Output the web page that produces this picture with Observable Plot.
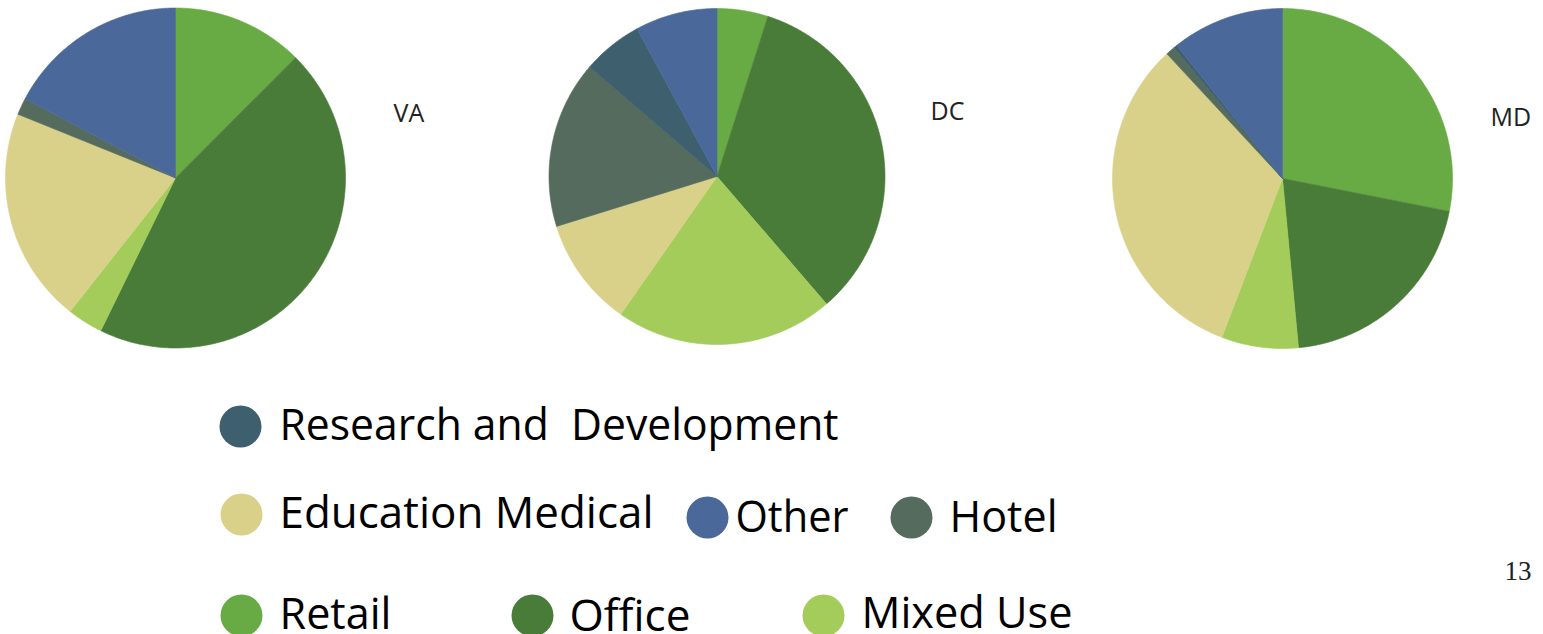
<!DOCTYPE html>
<html>
<head>
<meta charset="utf-8">
<script src="https://cdn.jsdelivr.net/npm/d3@7"></script>
<script src="https://cdn.jsdelivr.net/npm/@observablehq/plot@0.6"></script>
<style>
  html, body { margin: 0; padding: 0; background: #fff; }
  #chart { width: 1543px; height: 634px; overflow: hidden; }
</style>
</head>
<body>
<div id="chart"></div>
<script>
// ---------- DATA ----------
const categories = ["Retail", "Office", "Mixed Use", "Education Medical", "Hotel", "Research and Development", "Other"];
const states = ["VA", "DC", "MD"];
const vaValues = [12.5, 44.8, 3.4, 20.5, 1.6, 0, 17.3];
const dcValues = [4.9, 33.8, 21.0, 10.5, 16.1, 5.8, 7.9];
const mdValues = [28.1, 20.4, 7.3, 32.3, 0.9, 0.3, 10.7];
const colors = ["#68ab44", "#4a7c39", "#a3cc5a", "#d9d18a", "#546b5e", "#3e5f6e", "#4a6899"];
const legendCategories = ["Research and Development", "Education Medical", "Other", "Hotel", "Retail", "Office", "Mixed Use"];
const legendLabels = ["Research and  Development", "Education Medical", "Other", "Hotel", "Retail", "Office", "Mixed Use"];
const pageNumber = "13";

// ---------- LAYOUT ----------
const W = 1543, H = 634;
const pieLayout = [
  {cx: 175, cy: 177.5, r: 170, lx: 393, ly: 121},
  {cx: 716.5, cy: 176, r: 168, lx: 930, ly: 119},
  {cx: 1282, cy: 178, r: 170, lx: 1490, ly: 125}
];
const legendLayout = [
  {cx: 240, cy: 426, tx: 279, ty: 439, w: 559},
  {cx: 241, cy: 514, tx: 279, ty: 527, w: 374},
  {cx: 707, cy: 517, tx: 735, ty: 531, w: 113},
  {cx: 911, cy: 517, tx: 949, ty: 531, w: 108},
  {cx: 241, cy: 615, tx: 279, ty: 628, w: 112},
  {cx: 532, cy: 615, tx: 569, ty: 630, w: 121},
  {cx: 823, cy: 615, tx: 861, ty: 627, w: 211}
];

// ---------- BUILD ----------
const seriesValues = [vaValues, dcValues, mdValues];
const slicePoints = [];
states.forEach((st, si) => {
  const L = pieLayout[si];
  const arcs = d3.pie().sort(null).value(d => d)(seriesValues[si]);
  arcs.forEach((a, ci) => {
    if (a.value <= 0) return;
    const key = st + "-" + ci;
    const cat = categories[ci];
    slicePoints.push({key, cat, x: L.cx, y: L.cy});
    const n = Math.max(2, Math.ceil((a.endAngle - a.startAngle) / (Math.PI / 360)));
    for (let k = 0; k <= n; k++) {
      const t = a.startAngle + (a.endAngle - a.startAngle) * k / n;
      slicePoints.push({key, cat, x: L.cx + L.r * Math.sin(t), y: L.cy - L.r * Math.cos(t)});
    }
    slicePoints.push({key, cat, x: L.cx, y: L.cy});
  });
});

const stateLabels = states.map((s, i) => ({label: s, x: pieLayout[i].lx, y: pieLayout[i].ly}));
const legendDots = legendCategories.map((c, i) => ({cat: c, x: legendLayout[i].cx, y: legendLayout[i].cy}));
const legendTexts = legendLabels.map((t, i) => ({label: t, x: legendLayout[i].tx, y: legendLayout[i].ty, w: legendLayout[i].w}));

const plot = Plot.plot({
  width: W,
  height: H,
  margin: 0,
  x: {type: "linear", domain: [0, W], range: [0, W], axis: null},
  y: {type: "linear", domain: [0, H], range: [0, H], axis: null},
  color: {type: "ordinal", domain: categories, range: colors},
  style: {background: "#fff", overflow: "hidden"},
  marks: [
    Plot.line(slicePoints, {x: "x", y: "y", z: "key", fill: "cat", stroke: "cat", strokeWidth: 0.6, curve: "linear"}),
    Plot.text(stateLabels, {x: "x", y: "y", text: "label", textAnchor: "start", lineAnchor: "bottom",
      fontFamily: "Open Sans", fontSize: 25, fill: "#222"}),
    Plot.dot(legendDots, {x: "x", y: "y", r: 21, fill: "cat", stroke: null}),
    Plot.text(legendTexts, {x: "x", y: "y", text: "label", textAnchor: "start", lineAnchor: "bottom",
      fontFamily: "Open Sans", fontSize: 43, fill: "#000"}),
    Plot.text([{label: pageNumber, x: 1504, y: 579}], {x: "x", y: "y", text: "label", textAnchor: "start", lineAnchor: "bottom",
      fontFamily: "Liberation Serif", fontSize: 27, fill: "#222"})
  ]
});

// fit legend label widths
const widthByLabel = new Map(legendTexts.map(d => [d.label, d.w]));
d3.select(plot).selectAll("text").each(function() {
  const t = this.textContent;
  if (widthByLabel.has(t)) {
    this.style.whiteSpace = "pre";
    this.setAttribute("textLength", widthByLabel.get(t));
    this.setAttribute("lengthAdjust", "spacingAndGlyphs");
  }
});

document.getElementById("chart").appendChild(plot);
</script>
</body>
</html>
